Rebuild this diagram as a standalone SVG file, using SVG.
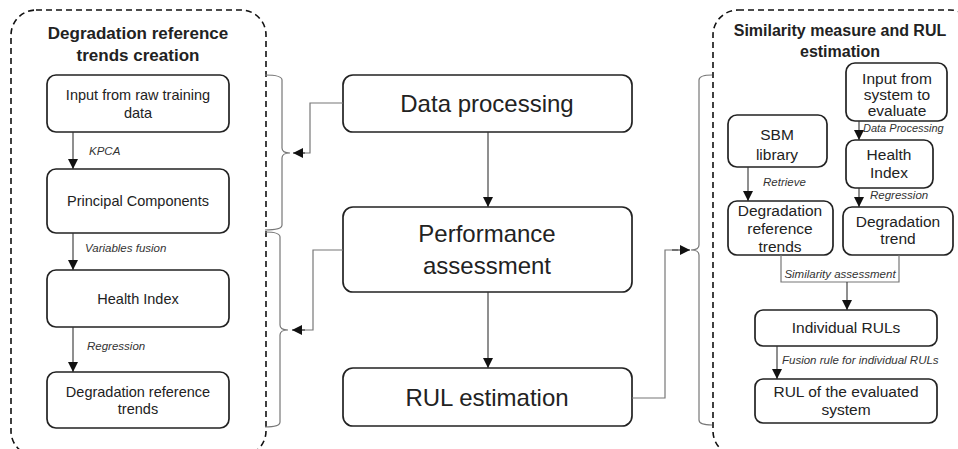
<svg xmlns="http://www.w3.org/2000/svg" width="958" height="449" viewBox="0 0 958 449">
<defs>
<marker id="ah" markerUnits="userSpaceOnUse" markerWidth="10" markerHeight="10" refX="10" refY="5" orient="auto">
<path d="M0,0 L10,5 L0,10 z" fill="#111"/>
</marker>
<style>
.dash{fill:none;stroke:#111;stroke-width:1.6;stroke-dasharray:6 4}
.box{fill:#fff;stroke:#222;stroke-width:1.7}
.t{font-family:"Liberation Sans",Arial,sans-serif;fill:#222;text-anchor:middle}
.title{font-weight:bold;font-size:17px}
.s{font-size:14.5px}
.r{font-size:15.5px}
.big{font-size:24px}
.lab{font-family:"Liberation Sans",Arial,sans-serif;font-style:italic;font-size:11.5px;fill:#333}
.ar{fill:none;stroke:#333;stroke-width:1.1;marker-end:url(#ah)}
.gr{fill:none;stroke:#777;stroke-width:1.2}
</style>
</defs>
<rect fill="#fff" x="0" y="0" width="958" height="449"/>

<g id="left-panel">
<rect class="dash" x="11" y="10" width="255" height="446" rx="25"/>
<text class="t title" x="138" y="39">Degradation reference</text>
<text class="t title" x="138" y="61">trends creation</text>
</g>
<g id="right-panel">
<rect class="dash" x="713" y="10" width="262" height="446" rx="25"/>
<text class="t title" x="840" y="36" style="font-size:16px">Similarity measure and  RUL</text>
<text class="t title" x="840" y="57" style="font-size:16px">estimation</text>
</g>

<g id="n-input-raw"><rect class="box" x="47" y="75" width="182" height="57" rx="9"/>
<text class="t s" x="138" y="100">Input from raw training</text><text class="t s" x="138" y="118">data</text></g>
<g id="n-pc"><rect class="box" x="47" y="169" width="182" height="64" rx="9"/>
<text class="t s" x="138" y="206">Principal Components</text></g>
<g id="n-hi"><rect class="box" x="47" y="270" width="182" height="57" rx="9"/>
<text class="t s" x="138" y="304">Health Index</text></g>
<g id="n-drt"><rect class="box" x="47" y="372" width="182" height="56" rx="9"/>
<text class="t s" x="138" y="397">Degradation reference</text><text class="t s" x="138" y="414">trends</text></g>

<g id="n-dp"><rect class="box" x="343" y="75" width="289" height="57" rx="10"/>
<text class="t big" x="487" y="112">Data processing</text></g>
<g id="n-pa"><rect class="box" x="343" y="207" width="289" height="85" rx="10"/>
<text class="t big" x="487" y="242">Performance</text><text class="t big" x="487" y="274">assessment</text></g>
<g id="n-rul"><rect class="box" x="343" y="368" width="289" height="58" rx="10"/>
<text class="t big" x="487" y="406">RUL estimation</text></g>

<g id="n-input-sys"><rect class="box" x="846" y="63" width="101" height="58" rx="9"/>
<text class="t r" x="897" y="84">Input from</text><text class="t r" x="897" y="100">system to</text><text class="t r" x="897" y="116">evaluate</text></g>
<g id="n-sbm"><rect class="box" x="728" y="115" width="99" height="52" rx="9"/>
<text class="t r" x="777" y="140">SBM</text><text class="t r" x="777" y="160">library</text></g>
<g id="n-hi2"><rect class="box" x="846" y="140" width="87" height="48" rx="9"/>
<text class="t r" x="889" y="160">Health</text><text class="t r" x="889" y="178">Index</text></g>
<g id="n-drt2"><rect class="box" x="728" y="201" width="105" height="54" rx="9"/>
<text class="t r" x="780" y="216">Degradation</text><text class="t r" x="780" y="234">reference</text><text class="t r" x="780" y="252">trends</text></g>
<g id="n-dt"><rect class="box" x="843" y="207" width="110" height="48" rx="9"/>
<text class="t r" x="898" y="227">Degradation</text><text class="t r" x="898" y="244">trend</text></g>
<g id="n-ind"><rect class="box" x="755" y="310" width="182" height="36" rx="8"/>
<text class="t r" x="846" y="333">Individual RULs</text></g>
<g id="n-rulsys"><rect class="box" x="755" y="379" width="182" height="44" rx="8"/>
<text class="t r" x="846" y="397">RUL of the evaluated</text><text class="t r" x="846" y="415">system</text></g>

<g id="connectors">
<path class="gr" d="M265,75 Q282,75 282,80 L282,148 Q282,153 290,153 Q282,153 282,158 L282,225 Q282,230 265,230"/>
<path class="gr" d="M265,232 Q280,232 280,237 L280,325 Q280,330 288,330 Q280,330 280,335 L280,422 Q280,427 265,427"/>
<path class="gr" d="M712,75 Q699,75 699,80 L699,245 Q699,250 691,250 Q699,250 699,255 L699,420 Q699,425 712,425"/>
<path class="gr" d="M343,103 H310 V153 H300"/>
<path class="ar" d="M305,153 H293"/>
<path class="gr" d="M343,250 H313 V330 H300"/>
<path class="ar" d="M305,330 H292"/>
<path class="gr" d="M632,398 H665 V250 H678"/>
<path class="ar" d="M672,250 H690"/>
<line class="ar" x1="73" y1="132" x2="73" y2="169"/>
<line class="ar" x1="73" y1="233" x2="73" y2="270"/>
<line class="ar" x1="73" y1="327" x2="73" y2="372"/>
<line class="ar" x1="488" y1="132" x2="488" y2="207"/>
<line class="ar" x1="488" y1="292" x2="488" y2="368"/>
<line class="ar" x1="748" y1="167" x2="748" y2="201"/>
<line class="ar" x1="859" y1="121" x2="859" y2="140"/>
<line class="ar" x1="859" y1="188" x2="859" y2="207"/>
<path class="gr" d="M781,255 V282 H899 V255"/>
<line class="ar" x1="847" y1="282" x2="847" y2="310"/>
<line class="ar" x1="777" y1="346" x2="777" y2="379"/>
<text class="lab" x="89" y="155">KPCA</text>
<text class="lab" x="85" y="252">Variables fusion</text>
<text class="lab" x="87" y="350">Regression</text>
<text class="lab" x="863" y="132" style="font-size:11px">Data Processing</text>
<text class="lab" x="763" y="186">Retrieve</text>
<text class="lab" x="870" y="199">Regression</text>
<text class="lab" x="840" y="278" text-anchor="middle">Similarity  assessment</text>
<text class="lab" x="782" y="364">Fusion rule for individual RULs</text>
</g>
</svg>
